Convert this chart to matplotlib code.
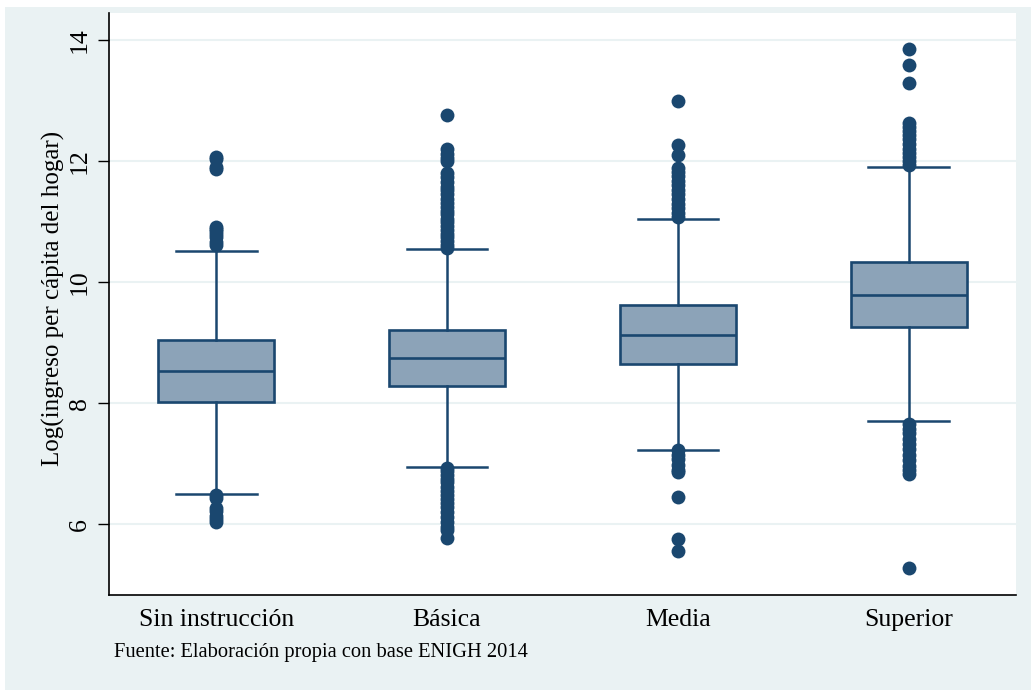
import matplotlib.pyplot as plt
from matplotlib.patches import Rectangle

plt.rcParams['font.family'] = ['Liberation Serif', 'DejaVu Serif']

categorias = ['Sin instrucción', 'Básica', 'Media', 'Superior']
q1 = [8.02, 8.28, 8.65, 9.26]
mediana = [8.53, 8.74, 9.12, 9.79]
q3 = [9.04, 9.21, 9.62, 10.33]
bigote_inf = [6.50, 6.94, 7.23, 7.70]
bigote_sup = [10.52, 10.55, 11.05, 11.90]

# outliers (dense clusters approximated by hand)
atipicos = [
    [12.07, 12.04, 11.90, 11.87, 10.91, 10.88, 10.84, 10.79, 10.74, 10.66, 10.61,
     6.48, 6.44, 6.27, 6.22, 6.14, 6.08, 6.04],
    [12.77, 12.20, 12.12, 12.06, 12.00, 11.80, 11.74, 11.66, 11.58, 11.52, 11.45,
     11.38, 11.31, 11.25, 11.18, 11.12, 11.05, 10.99, 10.93, 10.86, 10.80, 10.74,
     10.68, 10.62, 10.57,
     6.93, 6.88, 6.82, 6.75, 6.69, 6.62, 6.55, 6.48, 6.41, 6.35, 6.28, 6.20,
     6.12, 6.03, 5.96, 5.90, 5.77],
    [12.99, 12.27, 12.10, 11.88, 11.82, 11.75, 11.68, 11.60, 11.53, 11.46, 11.38,
     11.30, 11.22, 11.15, 11.08,
     7.22, 7.15, 7.07, 6.98, 6.90, 6.86, 6.45, 5.75, 5.56],
    [13.86, 13.59, 13.30, 12.63, 12.57, 12.50, 12.43, 12.36, 12.28, 12.21, 12.14,
     12.07, 12.00, 11.93,
     7.66, 7.58, 7.50, 7.41, 7.33, 7.24, 7.15, 7.06, 6.97, 6.90, 6.83, 5.28],
]

azul = '#1a476f'
relleno = '#8ca3b8'
fondo = '#eaf2f3'

fig = plt.figure(figsize=(10.31, 6.90), dpi=100)
fig.patch.set_facecolor('white')
fig.patches.append(Rectangle((5 / 1031, 0), 1, 683 / 690, transform=fig.transFigure,
                             facecolor=fondo, edgecolor='none', zorder=-10))

ax = fig.add_axes([109 / 1031, 95 / 690, 907 / 1031, 582 / 690])
ax.set_facecolor('white')

stats = []
for i in range(len(categorias)):
    stats.append({'label': categorias[i], 'q1': q1[i], 'med': mediana[i], 'q3': q3[i],
                  'whislo': bigote_inf[i], 'whishi': bigote_sup[i], 'fliers': atipicos[i]})

ax.bxp(stats, positions=range(1, 5), widths=0.5, patch_artist=True,
       showfliers=True,
       boxprops=dict(facecolor=relleno, edgecolor=azul, linewidth=1.9),
       medianprops=dict(color=azul, linewidth=1.9),
       whiskerprops=dict(color=azul, linewidth=1.8),
       capprops=dict(color=azul, linewidth=1.8),
       capwidths=0.35,
       flierprops=dict(marker='o', markersize=10, markerfacecolor=azul,
                       markeredgecolor=azul, markeredgewidth=0, linestyle='none'))

ax.set_xlim(0.536, 4.464)
ax.set_ylim(4.83, 14.45)
ax.set_yticks([6, 8, 10, 12, 14])
ax.set_yticklabels(['6', '8', '10', '12', '14'], rotation=90, va='center', fontsize=18.5)
ax.set_xticks(range(1, 5))
ax.set_xticklabels(categorias, fontsize=18.5)
ax.tick_params(axis='x', length=0, pad=10)
ax.tick_params(axis='y', length=8, width=1, pad=5)
ax.grid(axis='y', color=fondo, linewidth=1.5)
ax.set_axisbelow(True)

for s in ['top', 'right']:
    ax.spines[s].set_visible(False)
ax.spines['left'].set_linewidth(1.2)
ax.spines['bottom'].set_linewidth(1.2)

ax.set_ylabel('Log(ingreso per cápita del hogar)', fontsize=18)
ax.yaxis.set_label_coords(-0.048, 0.51)

fig.text(114 / 1031, 1 - 652 / 690, 'Fuente: Elaboración propia con base ENIGH 2014',
         fontsize=14.8, va='center', ha='left')

fig.savefig('out.png', dpi=100)
